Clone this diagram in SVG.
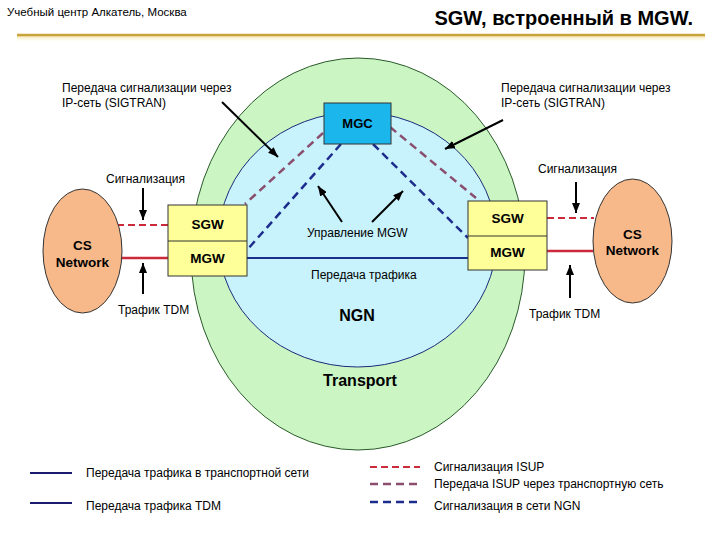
<svg xmlns="http://www.w3.org/2000/svg" width="720" height="540" viewBox="0 0 720 540">
<defs>
<marker id="ah" viewBox="0 0 10 8" refX="10" refY="4" markerWidth="10" markerHeight="8" markerUnits="userSpaceOnUse" orient="auto"><path d="M0,0 L10,4 L0,8 Z" fill="#000"/></marker>
<linearGradient id="fade" x1="0" y1="0" x2="0" y2="1"><stop offset="0" stop-color="#f3e6b0"/><stop offset="1" stop-color="#ffffff" stop-opacity="0"/></linearGradient>
<style>
text{font-family:"Liberation Sans",Arial,sans-serif;fill:#000}
.s{font-size:12px}
.b{font-weight:bold;text-anchor:middle}
.arr{stroke:#000;stroke-width:2;fill:none;marker-end:url(#ah)}
.box{fill:#ffff99;stroke:#333;stroke-width:1}
.cs{fill:#f8b98a;stroke:#333;stroke-width:1}
.isup{stroke:#cc2a3a;stroke-width:2;stroke-dasharray:7,4;fill:none}
.tr{stroke:#8a4f6e;stroke-width:2.5;stroke-dasharray:8,5;fill:none}
.ngn{stroke:#1c2c8c;stroke-width:2.5;stroke-dasharray:8,5;fill:none}
.tdm{stroke:#cc2a3a;stroke-width:2.5;fill:none}
.traf{stroke:#1a2e8c;stroke-width:2;fill:none}
</style>
</defs>
<rect width="720" height="540" fill="#fff"/>
<g id="header">
<text x="7" y="16" font-size="11.5">Учебный центр Алкатель, Москва</text>
<text x="693" y="25" font-size="20" font-weight="bold" text-anchor="end">SGW, встроенный в MGW.</text>
<rect x="17" y="36" width="688" height="7" fill="url(#fade)"/>
<line x1="17" y1="35" x2="705" y2="35" stroke="#c9a43a" stroke-width="2.5"/>
</g>
<g id="transport">
<ellipse cx="358" cy="254" rx="167" ry="196" fill="#ccf5c4" stroke="#2a5a2a" stroke-width="1"/>
<text class="b" x="360" y="386" font-size="16">Transport</text>
</g>
<g id="ngn">
<ellipse cx="357.5" cy="239.5" rx="139" ry="127.5" fill="#c8f2fc" stroke="#1a2a7a" stroke-width="1"/>
<text class="b" x="357" y="321" font-size="16">NGN</text>
</g>
<g id="connectors">
<line class="isup" x1="117" y1="225" x2="168" y2="225"/>
<line class="tdm" x1="122" y1="258" x2="168" y2="258"/>
<line class="isup" x1="547" y1="218" x2="594" y2="218"/>
<line class="tdm" x1="547" y1="251" x2="593" y2="251"/>
<line class="traf" x1="247" y1="258" x2="468" y2="258"/>
<line class="tr" x1="323" y1="133" x2="245" y2="204"/>
<line class="tr" x1="390" y1="127" x2="476" y2="198"/>
<line class="ngn" x1="341" y1="144" x2="247" y2="250"/>
<line class="ngn" x1="373" y1="144" x2="468" y2="238"/>
<line class="arr" x1="222" y1="102" x2="278" y2="157"/>
<line class="arr" x1="503" y1="120" x2="445" y2="149"/>
<line class="arr" x1="143" y1="188" x2="143" y2="220"/>
<line class="arr" x1="143" y1="294" x2="143" y2="263"/>
<line class="arr" x1="576" y1="182" x2="576" y2="213"/>
<line class="arr" x1="570" y1="298" x2="570" y2="265"/>
<line class="arr" x1="342" y1="222" x2="318" y2="186"/>
<line class="arr" x1="372" y1="222" x2="403" y2="191"/>
</g>
<g id="mgc">
<rect x="324" y="103" width="67" height="41" fill="#1ab6ec" stroke="#333" stroke-width="1"/>
<text class="b" x="357.5" y="128" font-size="13">MGC</text>
</g>
<g id="gw-left">
<rect class="box" x="168" y="205" width="79" height="71"/>
<line x1="168" y1="241" x2="247" y2="241" stroke="#333" stroke-width="1"/>
<text class="b" x="207.5" y="229" font-size="13.5">SGW</text>
<text class="b" x="207.5" y="263" font-size="13.5">MGW</text>
</g>
<g id="gw-right">
<rect class="box" x="468" y="201" width="79" height="69"/>
<line x1="468" y1="236" x2="547" y2="236" stroke="#333" stroke-width="1"/>
<text class="b" x="507.5" y="223" font-size="13.5">SGW</text>
<text class="b" x="507.5" y="257" font-size="13.5">MGW</text>
</g>
<g id="cs-left">
<ellipse class="cs" cx="82.5" cy="251" rx="39.5" ry="62"/>
<text class="b" x="82.5" y="250" font-size="13.5">CS</text>
<text class="b" x="82.5" y="267" font-size="13.5">Network</text>
</g>
<g id="cs-right">
<ellipse class="cs" cx="632.5" cy="241" rx="39.5" ry="62"/>
<text class="b" x="632.5" y="239" font-size="13.5">CS</text>
<text class="b" x="632.5" y="255" font-size="13.5">Network</text>
</g>
<g id="labels">
<text class="s" x="62" y="92">Передача сигнализации через</text>
<text class="s" x="62" y="107">IP-сеть (SIGTRAN)</text>
<text class="s" x="501" y="92">Передача сигнализации через</text>
<text class="s" x="501" y="107">IP-сеть (SIGTRAN)</text>
<text class="s" x="106" y="183">Сигнализация</text>
<text class="s" x="118" y="314">Трафик TDM</text>
<text class="s" x="538" y="173">Сигнализация</text>
<text class="s" x="529" y="318">Трафик TDM</text>
<text class="s" x="307" y="237">Управление MGW</text>
<text class="s" x="311" y="279">Передача трафика</text>
</g>
<g id="legend">
<line x1="30" y1="473" x2="72" y2="473" stroke="#1a1a6e" stroke-width="2"/>
<text class="s" x="86" y="477">Передача трафика в транспортной сети</text>
<line x1="30" y1="503" x2="72" y2="503" stroke="#1a1a6e" stroke-width="2"/>
<text class="s" x="86" y="510">Передача трафика TDM</text>
<line class="isup" x1="370" y1="467" x2="420" y2="467"/>
<text class="s" x="434" y="471">Сигнализация ISUP</text>
<line class="tr" x1="370" y1="484" x2="420" y2="484" stroke-width="2"/>
<text class="s" x="434" y="488">Передача ISUP через транспортную сеть</text>
<line class="ngn" x1="370" y1="502" x2="420" y2="502" stroke-width="2"/>
<text class="s" x="434" y="510">Сигнализация в сети NGN</text>
</g>
</svg>
